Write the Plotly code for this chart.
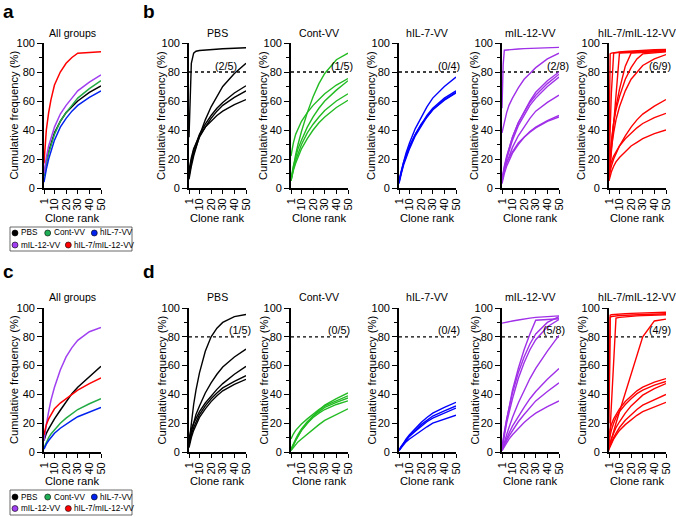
import plotly.graph_objects as go

# ---------------- data ----------------
X_RANK = [1, 2, 3, 5, 7, 10, 15, 20, 25, 30, 40, 50]
GROUPS = ["PBS", "Cont-VV", "hIL-7-VV", "mIL-12-VV", "hIL-7/mIL-12-VV"]
LINE_COLORS = ["#000000", "#22bb22", "#0000ff", "#a030e8", "#ff0000"]
LEGEND_COLORS = ["#000000", "#1fae55", "#0022ee", "#a040f0", "#ff0000"]
X_TICKS = [1, 10, 20, 30, 40, 50]
Y_TICKS = [0, 20, 40, 60, 80, 100]
THRESHOLD = 80
FRACTIONS_B = ["(2/5)", "(1/5)", "(0/4)", "(2/8)", "(6/9)"]
FRACTIONS_D = ["(1/5)", "(0/5)", "(0/4)", "(5/8)", "(4/9)"]

# panel a: all groups (order = GROUPS)
ALL_A = [
    [9, 14, 18, 25, 31, 38, 46, 52, 56, 60, 66, 70.5],
    [8, 13, 17, 24, 30, 37, 46, 52, 57, 62, 68.5, 74],
    [4, 9, 13, 20, 26, 33, 42, 48, 53, 57, 62.5, 67],
    [10, 16, 21, 29, 35, 42, 51, 57, 62, 67, 73, 78],
    [17, 30, 40, 52, 61, 71, 80, 86, 90, 93, 93.5, 94],
]
# panel b
B_PBS = [
    [35, 72, 86, 93, 94.3, 94.8, 95.2, 95.5, 95.8, 96, 96.4, 96.7],
    [6, 11, 15, 22, 28, 36, 47, 56, 63, 70, 79, 86],
    [10, 15, 19, 26, 31, 37, 44, 50, 55, 59, 65.5, 70.5],
    [8, 13, 17, 24, 29, 35, 42, 48, 53, 57, 62.5, 67],
    [12, 17, 21, 27, 31, 36, 42, 46, 50, 53, 57.5, 61],
]
B_CONT = [
    [5, 10, 15, 23, 30, 39, 52, 63, 72, 79, 88.5, 93],
    [22, 27, 31, 37, 41, 46, 52, 57, 61, 65, 71, 75.5],
    [6, 11, 15, 21, 27, 33, 42, 49, 55, 60, 67.5, 74],
    [5, 10, 13, 19, 24, 30, 38, 44, 49, 53.5, 60, 65],
    [5, 9, 12, 17, 21, 27, 34, 40, 45, 49, 55.5, 60.5],
]
B_HIL7 = [
    [4, 8, 12, 18, 24, 31, 41, 49, 56, 62, 70, 76.5],
    [4, 8, 11, 17, 22, 28, 37, 44, 50, 55, 62, 67],
    [3, 7, 10, 16, 21, 27, 36, 43, 49, 54, 61, 66],
    [5, 9, 12, 18, 23, 29, 37, 44, 49, 54, 60.5, 65.5],
]
B_MIL12 = [
    [55, 85, 95, 95.2, 95.4, 95.6, 95.9, 96.1, 96.3, 96.5, 96.8, 97],
    [38, 42, 46, 52, 57, 62, 69, 75, 79, 83, 89, 93],
    [5, 10, 14, 21, 27, 35, 45, 53, 60, 66, 74, 80],
    [6, 11, 15, 22, 28, 35, 45, 52, 59, 64, 72, 78.5],
    [4, 9, 13, 20, 26, 33, 43, 50, 57, 62, 70, 76.5],
    [5, 9, 12, 17, 22, 28, 36, 42, 48, 53, 59, 64],
    [6, 10, 13, 18, 21, 25, 31, 35, 39, 42, 46.5, 50],
    [3, 7, 10, 15, 19, 24, 30, 35, 38.5, 41.5, 46, 49],
]
B_COMBO = [
    [25, 92.5, 93, 93.3, 93.5, 93.8, 94.1, 94.4, 94.7, 95, 95.3, 95.6],
    [15, 40, 65, 93, 93.3, 93.5, 93.8, 94, 94.3, 94.5, 94.8, 95],
    [5, 15, 25, 44, 64, 93, 93.3, 93.5, 93.8, 94, 94.3, 94.5],
    [8, 20, 30, 45, 56, 68, 84, 93, 93.3, 93.6, 94, 94.3],
    [10, 22, 32, 45, 54, 63, 75, 83, 89, 92.5, 93.5, 94],
    [8, 18, 27, 38, 47, 56, 67, 75, 80, 84.5, 89, 92],
    [8, 12, 15, 20, 24, 29, 36, 42, 47, 51, 56.5, 61],
    [12, 15, 18, 22, 25, 29, 34, 38, 41.5, 44.5, 48.5, 51.5],
    [5, 8, 11, 15, 18, 21, 25, 29, 31.5, 34, 37.5, 40],
]
# panel c: all groups (order = GROUPS)
ALL_C = [
    [8, 11, 13, 16, 19, 23, 29, 35, 40.5, 45, 52.5, 59.5],
    [3, 5, 7, 10, 12.5, 15.5, 20, 23.5, 26.5, 29.5, 33.5, 37],
    [2, 4, 5.5, 8, 10, 13, 16.5, 19.5, 22, 24.5, 28, 31],
    [8, 14, 19, 28, 36, 45, 57, 66, 72.5, 77.5, 83.5, 86.5],
    [12, 16, 19, 23, 26, 30, 34, 37, 40.5, 43, 47.5, 51.5],
]
# panel d
D_PBS = [
    [6, 14, 21, 33, 43, 55, 70, 80, 86, 90, 94, 95.5],
    [5, 10, 14, 20, 26, 32, 41, 48, 54, 59, 66, 71.5],
    [9, 13, 16, 20, 23, 28, 34, 39, 43.5, 47.5, 54, 59.5],
    [5, 9, 12, 17, 21, 26, 32, 37, 41, 44.5, 49, 53],
    [3, 7, 10, 15, 19, 24, 30, 35, 39, 42.5, 47, 50.5],
]
D_CONT = [
    [1, 3, 5, 8, 11, 15, 20, 25, 29, 32.5, 37, 41],
    [9, 11, 12.5, 15, 17, 19.5, 23, 26.5, 29.5, 32, 35.5, 39],
    [2, 4, 6, 9, 12, 16, 21, 25, 28, 31, 34.5, 37.5],
    [1.5, 3.5, 5, 8, 11, 15, 20, 24, 27, 29.5, 33, 35.5],
    [1, 2, 3, 5, 7, 9, 12.5, 16, 19, 22, 26, 30],
]
D_HIL7 = [
    [1, 2.5, 4, 6.5, 9, 12, 16.5, 20.5, 24, 27, 31, 34.5],
    [1, 2.5, 3.5, 6, 8, 11, 15, 19, 22, 25, 28.5, 32],
    [1.5, 3, 4, 6, 8, 11, 14.5, 18, 21, 23.5, 27, 30.5],
    [1, 2, 3, 5, 7, 9, 12, 15, 17.5, 20, 23, 25.5],
]
D_MIL12 = [
    [89.5, 89.7, 89.9, 90.2, 90.5, 91, 91.7, 92.5, 93, 93.5, 94, 94.5],
    [2, 8, 13, 22, 31, 43, 58, 71, 82, 91.5, 92, 92.5],
    [3, 9, 14, 23, 31, 41, 55, 66, 75, 82, 90, 94],
    [2, 7, 12, 20, 27, 37, 51, 62, 71, 78, 87, 92],
    [1, 4, 7, 12, 17, 24, 34, 43, 51, 58, 70, 81],
    [2, 4, 6, 10, 13, 18, 25, 31, 37, 42, 50.5, 58],
    [1, 3, 5, 8, 11, 15, 21, 26, 31, 35.5, 42, 48],
    [1, 2.5, 4, 6.5, 9, 12, 16.5, 20.5, 24, 27, 31.5, 35.5],
]
D_COMBO = [
    [20, 93.5, 94, 94.3, 94.5, 94.8, 95, 95.2, 95.4, 95.5, 95.8, 96],
    [30, 95, 95.3, 95.5, 95.7, 95.9, 96.1, 96.3, 96.5, 96.6, 96.8, 97],
    [1, 16, 32, 63, 93, 93.5, 94, 94.3, 94.5, 94.7, 95, 95.3],
    [3, 6, 9, 15, 20, 28, 41, 54, 66, 80, 91, 92.3],
    [12, 16, 19, 23, 26, 30, 35, 39, 42.5, 45, 48.5, 51],
    [8, 12, 15, 20, 24, 28, 33, 37, 40.5, 43, 46.5, 49],
    [3, 6, 9, 13, 17, 21, 27, 32, 36, 39.5, 44, 47.5],
    [3, 5, 7, 10, 13, 17, 22, 26, 29.5, 32.5, 36.5, 40],
    [2, 4, 6, 9, 11.5, 15, 19, 22.5, 25.5, 28, 31.5, 34.5],
]

# ---------------- layout constants ----------------
W, H = 676, 517
FONT = "Arial, Liberation Sans, Helvetica, sans-serif"
COLS_PX = [(44, 101), (189, 246), (291, 348), (399, 456), (502, 559), (609, 666)]
ROWS_PX = [(43, 188), (308, 452)]
TITLE_Y = [33, 297]
XTITLE_Y = [218, 481]
FRAC_X = [[32.6, 44.8, 44, 48.9, 44.5], [44.8, 42, 44, 46, 45]]
FRAC_Y = [83.8, 84.8]


def px(x):
    return x / W


def py(y):
    return 1 - y / H


fig = go.Figure()
annotations = []
shapes = []

panel_data = [
    [ALL_A, B_PBS, B_CONT, B_HIL7, B_MIL12, B_COMBO],
    [ALL_C, D_PBS, D_CONT, D_HIL7, D_MIL12, D_COMBO],
]
fractions = [FRACTIONS_B, FRACTIONS_D]

axis_idx = 0
for r in range(2):
    for c in range(6):
        axis_idx += 1
        sfx = "" if axis_idx == 1 else str(axis_idx)
        xa, ya = "x" + sfx, "y" + sfx
        x0, x1 = COLS_PX[c]
        ytop, ybot = ROWS_PX[r]
        fig.update_layout(**{
            "xaxis" + sfx: dict(
                domain=[px(x0), px(x1)], anchor=ya, range=[1, 50], automargin=False,
                tickmode="array", tickvals=X_TICKS, ticktext=[str(v) for v in X_TICKS],
                tickangle=-90, ticks="outside", ticklen=4, tickwidth=1.4,
                tickcolor="black", showline=True, linecolor="black", linewidth=1.7,
                showgrid=False, zeroline=False,
                tickfont=dict(family=FONT, size=11, color="black"),
            ),
            "yaxis" + sfx: dict(
                domain=[py(ybot), py(ytop)], anchor=xa, range=[0, 100], automargin=False,
                tickmode="array", tickvals=Y_TICKS,
                ticks="outside", ticklen=5, tickwidth=1.4, tickcolor="black",
                minor=dict(tickvals=[10, 30, 50, 70, 90], ticks="outside", ticklen=3,
                           tickwidth=1.2, tickcolor="black"),
                showline=True, linecolor="black", linewidth=1.7,
                showgrid=False, zeroline=False,
                tickfont=dict(family=FONT, size=11, color="black"),
            ),
        })
        curves = panel_data[r][c]
        if c == 0:
            for g, ys in enumerate(curves):
                fig.add_trace(go.Scatter(x=X_RANK, y=ys, mode="lines", xaxis=xa, yaxis=ya,
                                         line=dict(color=LEGEND_COLORS[g] if g != 1 else "#22aa44",
                                                   width=1.5),
                                         showlegend=False, hoverinfo="skip"))
            title = "All groups"
        else:
            g = c - 1
            fig.add_trace(go.Scatter(x=[1, 50], y=[THRESHOLD, THRESHOLD], mode="lines",
                                     xaxis=xa, yaxis=ya,
                                     line=dict(color="black", width=1.3, dash="dot"),
                                     showlegend=False, hoverinfo="skip"))
            for ys in curves:
                fig.add_trace(go.Scatter(x=X_RANK, y=ys, mode="lines", xaxis=xa, yaxis=ya,
                                         line=dict(color=LINE_COLORS[g], width=1.4),
                                         showlegend=False, hoverinfo="skip"))
            title = GROUPS[g]
            annotations.append(dict(x=FRAC_X[r][g], y=FRAC_Y[r], xref=xa, yref=ya,
                                    text=fractions[r][g], showarrow=False, xanchor="center",
                                    yanchor="middle",
                                    font=dict(family=FONT, size=10.8, color="black")))
        xc = (x0 + x1) / 2
        annotations.append(dict(x=px(xc), y=py(TITLE_Y[r]), xref="paper", yref="paper",
                                text=title, showarrow=False, xanchor="center", yanchor="middle",
                                font=dict(family=FONT, size=10.6, color="black")))
        annotations.append(dict(x=px(xc), y=py(XTITLE_Y[r]), xref="paper", yref="paper",
                                text="Clone rank", showarrow=False, xanchor="center",
                                yanchor="middle",
                                font=dict(family=FONT, size=11.2, color="black")))
        yt_off = 30 if c == 0 else 27.5
        annotations.append(dict(x=px(x0 - yt_off), y=py((ytop + ybot) / 2), xref="paper",
                                yref="paper", text="Cumulative frequency (%)", showarrow=False,
                                textangle=-90, xanchor="center", yanchor="middle",
                                font=dict(family=FONT, size=11.2, color="black")))

# panel letters
for letter, (lx, ly) in zip(["a", "b", "c", "d"], [(8, 11), (149, 11), (8, 271), (149, 271)]):
    annotations.append(dict(x=px(lx), y=py(ly), xref="paper", yref="paper", text="<b>%s</b>" % letter,
                            showarrow=False, xanchor="center", yanchor="middle",
                            font=dict(family=FONT, size=19, color="black")))

# legends (drawn below the "All groups" panels)
LEG_BOX = [(10, 227, 132, 251), (10, 490, 132, 515)]
LEG_ROWS = [(233, 245), (497, 508.5)]
LEG_MARK_X = [15, 47.7, 94.3, 15, 68.3]
LEG_ROW_OF = [0, 0, 0, 1, 1]
for r in range(2):
    bx0, by0, bx1, by1 = LEG_BOX[r]
    shapes.append(dict(type="rect", xref="paper", yref="paper", x0=px(bx0), x1=px(bx1),
                       y0=py(by1), y1=py(by0), line=dict(color="#444444", width=0.8)))
    for g, name in enumerate(GROUPS):
        mx = LEG_MARK_X[g]
        my = LEG_ROWS[r][LEG_ROW_OF[g]]
        rad = 3
        shapes.append(dict(type="circle", xref="paper", yref="paper",
                           x0=px(mx - rad), x1=px(mx + rad), y0=py(my + rad), y1=py(my - rad),
                           fillcolor=LEGEND_COLORS[g], line=dict(color="black", width=0.6)))
        annotations.append(dict(x=px(mx + 4), y=py(my), xref="paper", yref="paper", text=name,
                                showarrow=False, xanchor="left", yanchor="middle",
                                font=dict(family=FONT, size=8.2, color="black")))

fig.update_layout(template="none", width=W, height=H, margin=dict(l=0, r=0, t=0, b=0),
                  paper_bgcolor="white", plot_bgcolor="white",
                  annotations=annotations, shapes=shapes, showlegend=False)
fig.write_html("out.html", config={"displayModeBar": False},
               post_script="document.body.style.margin='0px';document.body.style.padding='0px';"
                           "document.body.style.overflow='hidden';")
